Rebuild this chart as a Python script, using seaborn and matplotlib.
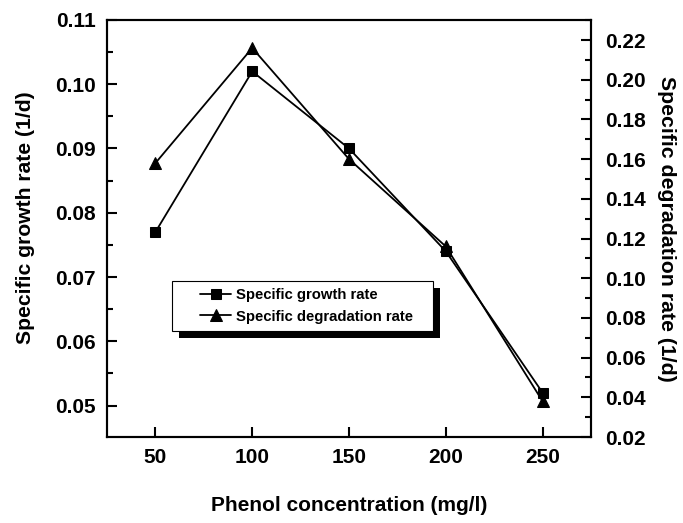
import matplotlib
matplotlib.use("Agg")
import matplotlib.pyplot as plt
from matplotlib.patches import Rectangle
from matplotlib.ticker import MultipleLocator, FormatStrFormatter
import seaborn as sns
import pandas as pd

phenol = [50, 100, 150, 200, 250]
growth_rate = [0.077, 0.102, 0.090, 0.074, 0.052]
degradation_rate = [0.158, 0.216, 0.160, 0.116, 0.038]

sns.set_style("ticks")
plt.rcParams["font.family"] = ["Liberation Sans", "DejaVu Sans"]
plt.rcParams["font.weight"] = "bold"
for key in ("text.color", "axes.labelcolor", "xtick.color", "ytick.color", "axes.edgecolor"):
    plt.rcParams[key] = "black"

df = pd.DataFrame({"phenol": phenol, "growth": growth_rate, "degradation": degradation_rate})

fig = plt.figure(figsize=(6.83, 5.23), dpi=100)
ax = fig.add_axes([0.1567, 0.1644, 0.7086, 0.7974])
ax2 = ax.twinx()

sns.lineplot(data=df, x="phenol", y="growth", ax=ax, color="black", marker="s",
             markersize=6.5, markeredgecolor="black", linewidth=1.3,
             label="Specific growth rate", legend=False)
sns.lineplot(data=df, x="phenol", y="degradation", ax=ax2, color="black", marker="^",
             markersize=8.5, markeredgecolor="black", linewidth=1.3,
             label="Specific degradation rate", legend=False)

ax.set_xlim(25, 275)
ax.set_ylim(0.0451, 0.11)
ax2.set_ylim(0.02, 0.2301)

ax.set_xticks(phenol)
ax.yaxis.set_major_locator(MultipleLocator(0.01))
ax.yaxis.set_minor_locator(MultipleLocator(0.005))
ax2.yaxis.set_major_locator(MultipleLocator(0.02))
ax2.yaxis.set_minor_locator(MultipleLocator(0.01))
ax.yaxis.set_major_formatter(FormatStrFormatter("%.2f"))
ax2.yaxis.set_major_formatter(FormatStrFormatter("%.2f"))

ax.tick_params(axis="both", which="major", direction="in", length=7, width=1.5,
               labelsize=15, pad=8)
ax.tick_params(axis="y", which="minor", direction="in", length=4, width=1.5)
ax.tick_params(axis="x", which="minor", bottom=False)
ax2.tick_params(axis="y", which="major", direction="in", length=7, width=1.5,
                labelsize=15, pad=10)
ax2.tick_params(axis="y", which="minor", direction="in", length=4, width=1.5)

for a in (ax, ax2):
    for s in a.spines.values():
        s.set_linewidth(1.5)
        s.set_color("black")
    for lab in a.get_xticklabels() + a.get_yticklabels():
        lab.set_fontweight("bold")

ax.set_xlabel("Phenol concentration (mg/l)", fontsize=15, fontweight="bold", labelpad=21)
ax.set_ylabel("Specific growth rate (1/d)", fontsize=15.2, fontweight="bold")
ax.yaxis.set_label_coords(-0.148, 0.527)
ax2.set_ylabel("Specific degradation rate (1/d)", fontsize=15.3, fontweight="bold",
               rotation=270, labelpad=22)

h1, l1 = ax.get_legend_handles_labels()
h2, l2 = ax2.get_legend_handles_labels()
leg = ax2.legend(h1 + h2, l1 + l2, loc="upper left", bbox_to_anchor=(0.192, 0.357),
                 borderaxespad=0, borderpad=0, frameon=False, handlelength=2.1,
                 handletextpad=0.3, labelspacing=0.5,
                 prop={"size": 10.7, "weight": "bold"})
leg.set_zorder(11)

# legend frame with an offset drop shadow
fig.canvas.draw()
bb = leg.get_window_extent()
x0, x1 = bb.x0 - 28, bb.x1 + 20
y0, y1 = bb.y0 - 7, bb.y1 + 7
shadow = Rectangle((x0 + 7, y0 - 7), x1 - x0, y1 - y0, transform=None,
                   facecolor="black", edgecolor="none", zorder=9)
frame = Rectangle((x0, y0), x1 - x0, y1 - y0, transform=None,
                  facecolor="white", edgecolor="black", linewidth=0.8, zorder=10)
ax2.add_artist(shadow)
ax2.add_artist(frame)

fig.savefig("out.png", dpi=100)
